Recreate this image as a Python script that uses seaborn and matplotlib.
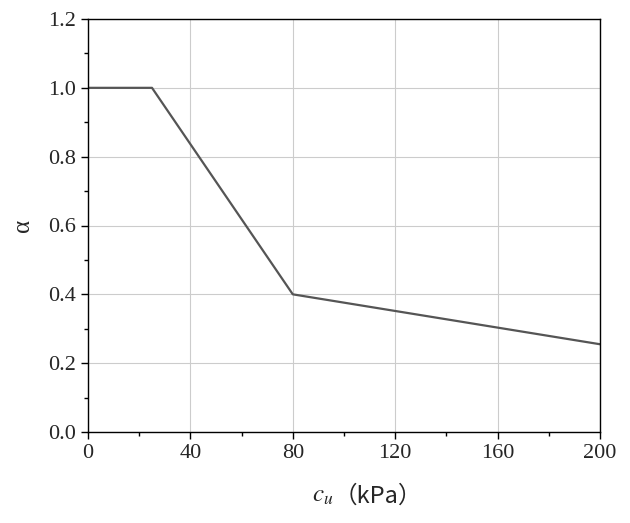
import matplotlib
matplotlib.use("Agg")
import matplotlib.pyplot as plt
import seaborn as sns
import pandas as pd
from matplotlib.ticker import AutoMinorLocator

cu = [0, 25, 80, 200]
alpha = [1.0, 1.0, 0.4, 0.255]
xticks = [0, 40, 80, 120, 160, 200]
yticks = [0.0, 0.2, 0.4, 0.6, 0.8, 1.0, 1.2]

sns.set_style("ticks")
plt.rcParams['font.family'] = ['Liberation Serif', 'Noto Sans CJK SC']
plt.rcParams['mathtext.fontset'] = 'stix'

fig = plt.figure(figsize=(6.3, 5.23), dpi=100)
ax = fig.add_axes([88/630, 91/523, 512/630, 413/523])
df = pd.DataFrame({"cu": cu, "alpha": alpha})
sns.lineplot(data=df, x="cu", y="alpha", ax=ax, color="#555555", lw=1.6)
ax.set_xlim(0, 200); ax.set_ylim(0, 1.2)
ax.set_xticks(xticks); ax.set_yticks(yticks)
ax.set_xticklabels([str(t) for t in xticks])
ax.set_yticklabels([f"{t:.1f}" for t in yticks])
ax.xaxis.set_minor_locator(AutoMinorLocator(2))
ax.yaxis.set_minor_locator(AutoMinorLocator(2))
ax.grid(True, which="major", color="#cccccc", lw=0.8)
ax.tick_params(which="major", direction="out", length=5, width=1, labelsize=16, color="black")
ax.tick_params(which="minor", direction="out", length=3, width=1, color="black")
for s in ax.spines.values():
    s.set_color("black"); s.set_linewidth(1)
ax.set_xlabel("")
ax.text(0.48, -0.155, "$c_u$", transform=ax.transAxes, fontsize=18,
        ha="right", va="center")
ax.text(0.48, -0.155, "（kPa）", transform=ax.transAxes, fontsize=17,
        ha="left", va="center", family=['Noto Sans CJK SC', 'Liberation Serif'])
ax.set_ylabel("α", fontsize=18, labelpad=10)
fig.savefig("out.png", dpi=100)
